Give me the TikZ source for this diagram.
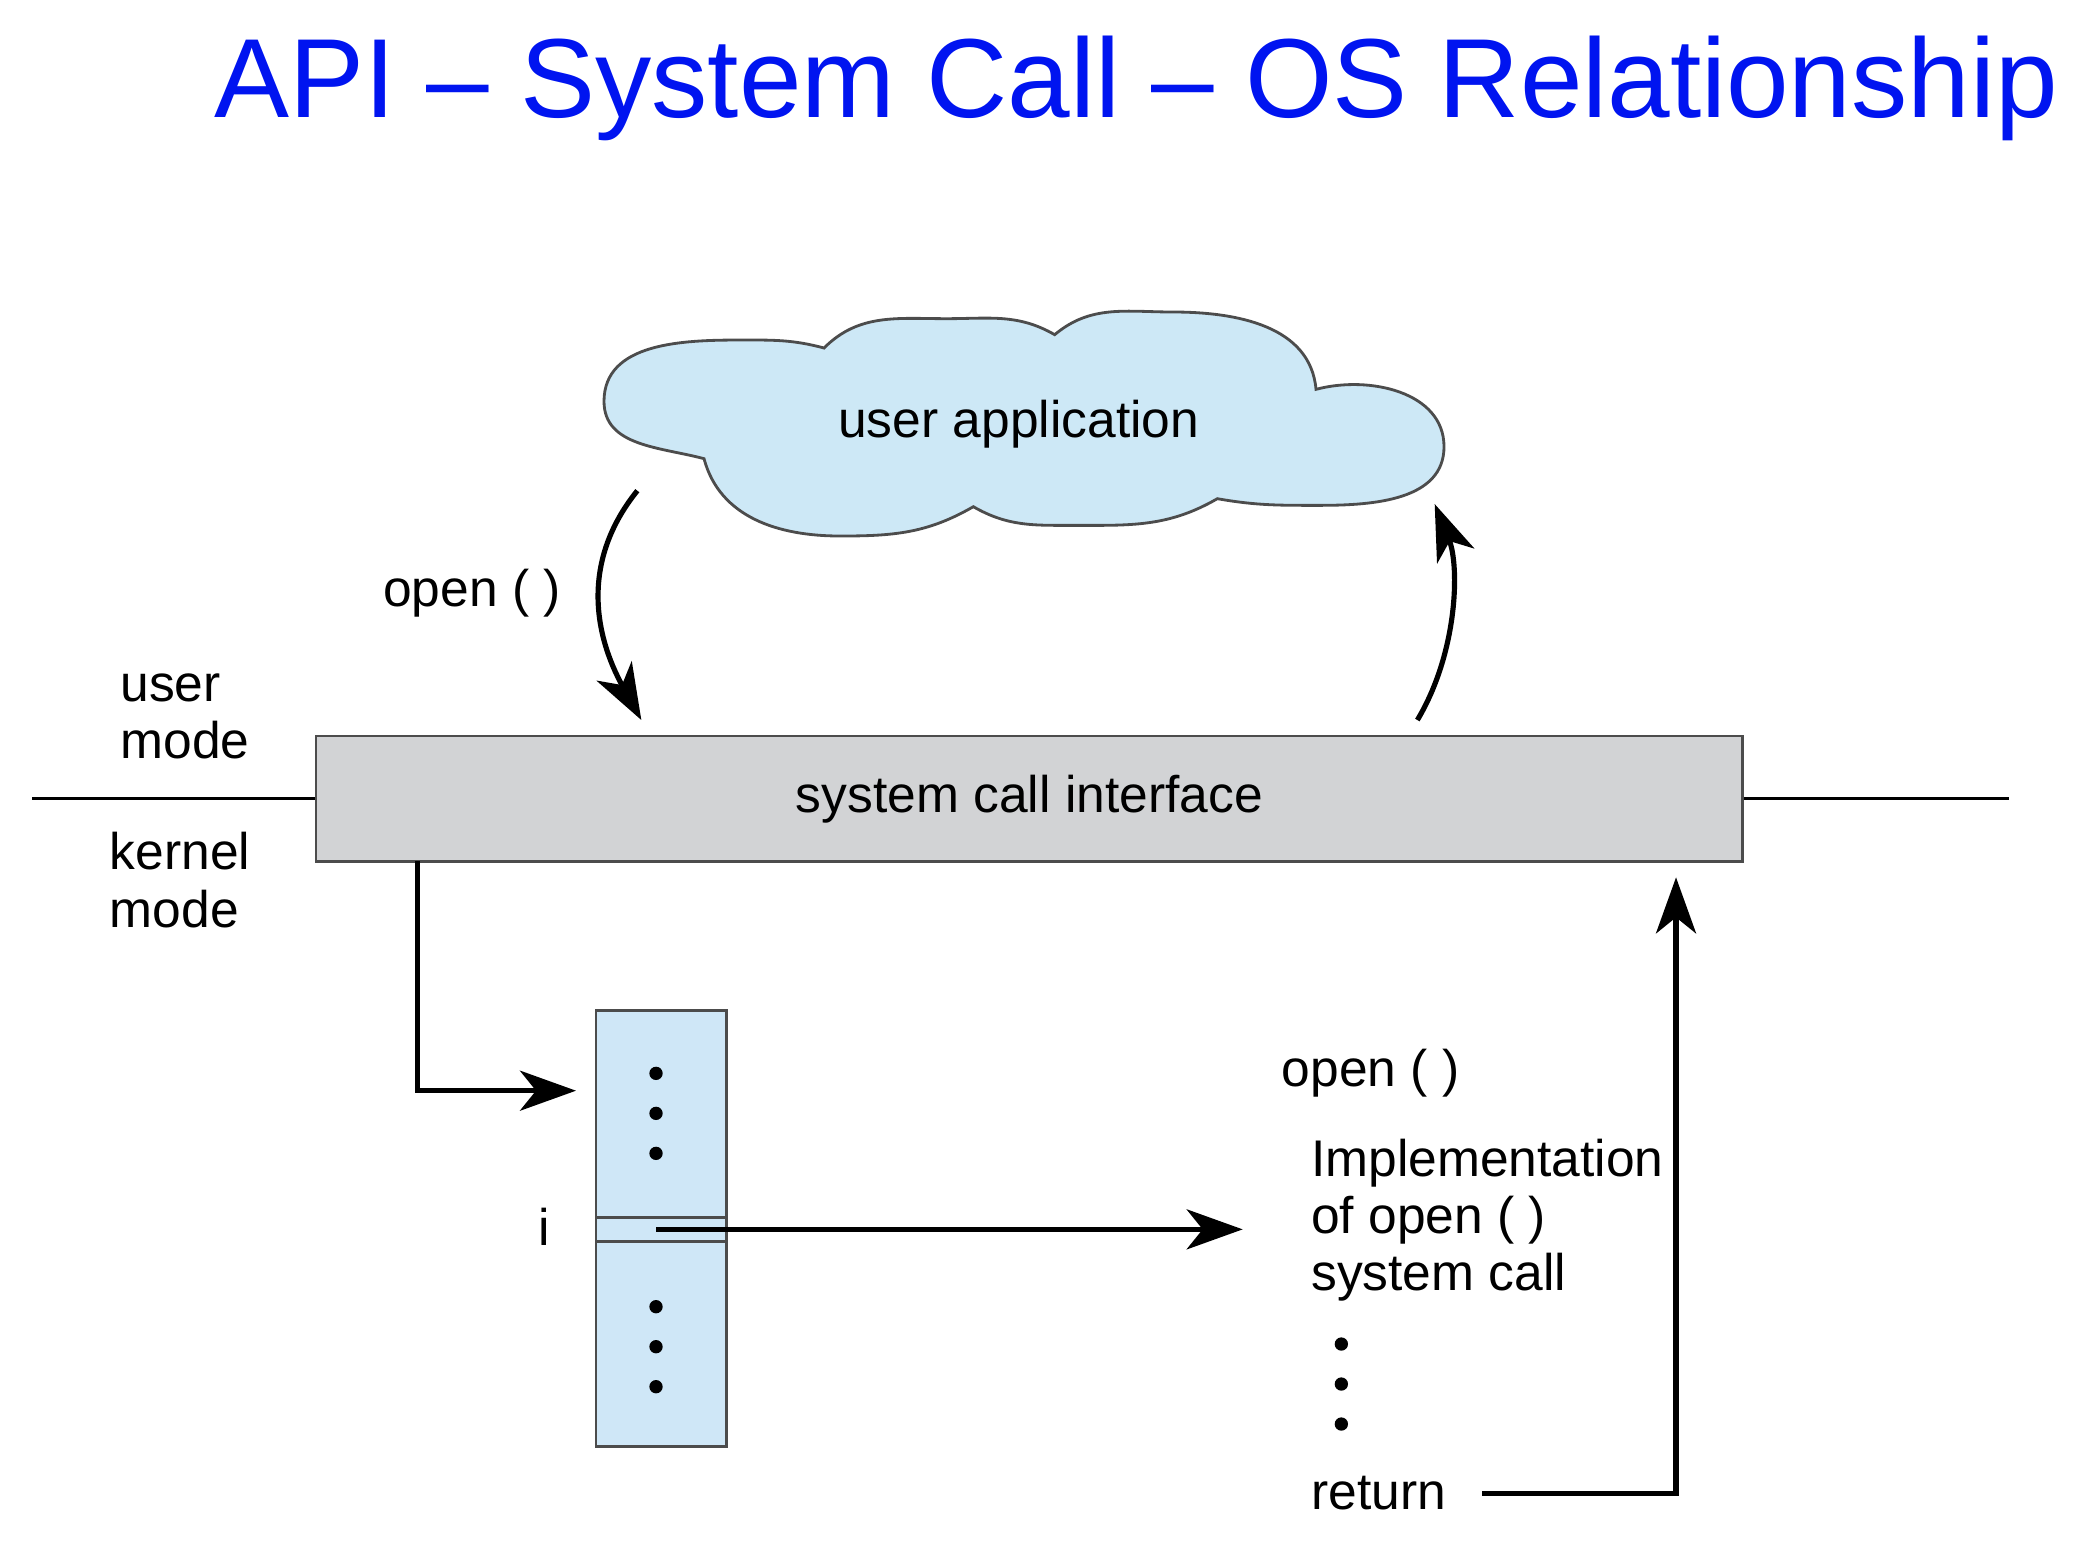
\documentclass[tikz,border=0pt]{standalone}
\usepackage{fontspec}
\setmainfont{Liberation Sans}
\usetikzlibrary{arrows.meta}
\definecolor{cloudblue}{RGB}{205,232,246}
\definecolor{tableblue}{RGB}{207,231,247}
\definecolor{scigray}{RGB}{210,211,213}
\definecolor{titleblue}{RGB}{0,20,240}
\begin{document}
\begin{tikzpicture}
[thick,%
  every node/.style={inner sep=0pt,font=\fontsize{11}{12.2}\selectfont},%
  arr/.style={-{Stealth[length=4.2mm,width=3mm,inset=1.2mm]},line width=1.1pt},%
  box/.style={draw=black!70,line width=0.6pt},%
  dot/.style={circle,fill=black,minimum size=1mm}]
\useasboundingbox (0,0) rectangle (15.6,-11.685);
\node[titleblue,anchor=base,font=\fontsize{24}{28}\selectfont] (title) at (8.52,-0.88) {API – System Call – OS Relationship};
\draw[box,fill=cloudblue] (5.28,-3.44) to[out=165,in=-90] (4.53,-3.01)
  to[out=90,in=180] (5.56,-2.55) to[out=0,in=165] (6.18,-2.61)
  to[out=45,in=180] (7.10,-2.39) to[out=0,in=150] (7.91,-2.51)
  to[out=40,in=180] (8.80,-2.34) to[out=0,in=95] (9.87,-2.92)
  to[out=15,in=90] (10.83,-3.35) to[out=-90,in=0] (9.90,-3.79)
  to[out=180,in=-10] (9.13,-3.74)
  to[out=-150,in=0] (8.05,-3.94) to[out=180,in=-30] (7.30,-3.80)
  to[out=-150,in=0] (6.30,-4.02) to[out=180,in=-75] (5.28,-3.44) -- cycle;
\node (app) at (7.64,-3.18) {user application};
\node[box,fill=scigray,minimum width=10.70cm,minimum height=0.94cm] (sci) at (7.72,-5.99) {system call interface};
\coordinate (ml) at (0.24,-5.99);
\coordinate (mr) at (15.07,-5.99);
\draw[line width=0.6pt] (ml) -- (sci.west);
\draw[line width=0.6pt] (sci.east) -- (mr);
\node[anchor=west,align=left] (umode) at (0.89,-5.37) {user\\mode};
\node[anchor=west,align=left] (kmode) at (0.81,-6.60) {kernel\\mode};
\node[anchor=east] (openL) at (4.22,-4.45) {open ( )};
\coordinate (callout) at (4.78,-3.68);
\coordinate (callin) at (4.81,-5.40);
\draw[arr] (callout) .. controls (4.36,-4.2) and (4.45,-4.75) .. (callin);
\coordinate (retout) at (10.63,-5.40);
\coordinate (retin) at (10.76,-3.78);
\draw[arr] (retout) .. controls (10.93,-4.9) and (10.95,-4.25) .. (retin);
\node[box,fill=tableblue,minimum width=0.98cm,minimum height=3.27cm] (tbl) at (4.96,-9.215) {};
\node[box,minimum width=0.98cm,minimum height=0.18cm] (row) at (4.96,-9.22) {};
\foreach \y [count=\i] in {8.05,8.35,8.65,9.80,10.10,10.40}
  \node[dot] (tdot\i) at (4.92,-\y) {};
\node (idx) at (4.08,-9.20) {i};
\coordinate (kdown) at (3.13,-6.46);
\coordinate (tblin) at (4.32,-8.18);
\draw[arr] (kdown) |- (tblin);
\coordinate (implin) at (9.32,-9.22);
\draw[arr] ([xshift=-0.4mm]row.center) -- (implin);
\node[anchor=west] (openR) at (9.60,-8.05) {open ( )};
\node[anchor=west,align=left] (impl) at (9.82,-9.15) {Implementation\\of open ( )\\system call};
\foreach \y [count=\i] in {10.08,10.38,10.68}
  \node[dot] (rdot\i) at (10.06,-\y) {};
\node[anchor=west] (ret) at (9.82,-11.20) {return};
\coordinate (retup) at (12.57,-6.58);
\draw[arr] ([xshift=2.6mm]ret.east) -| (retup);
\end{tikzpicture}
\end{document}
